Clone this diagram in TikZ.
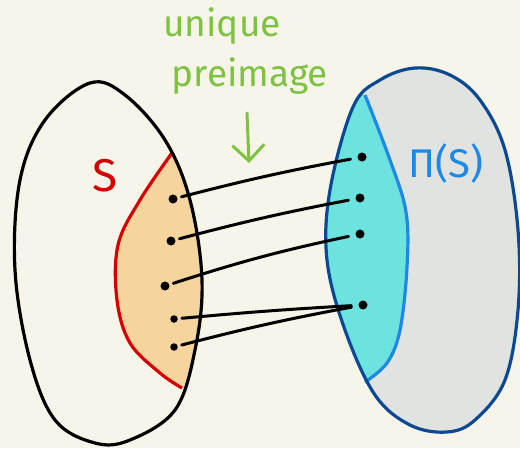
\documentclass[tikz,border=0pt]{standalone}
\usepackage{fontspec}
\setmainfont{Fira Sans}
\usetikzlibrary{arrows.meta}
\definecolor{bg}{HTML}{F7F5EA}
\definecolor{orangefill}{HTML}{F6D49E}
\definecolor{redline}{HTML}{D40000}
\definecolor{cyanfill}{HTML}{6CE3DF}
\definecolor{grayfill}{HTML}{E0E3DF}
\definecolor{darkblue}{HTML}{0B4A93}
\definecolor{lightblue}{HTML}{1E88E5}
\definecolor{greentext}{HTML}{7DC242}
\tikzset{
  dotnode/.style={circle,fill=black,inner sep=0pt,minimum size=9pt},
  conn/.style={line width=3pt,black,line cap=round,shorten <=4pt,shorten >=7pt},
  outline/.style={line width=3.2pt,line join=round},
  greenlab/.style={text=greentext,font=\fontsize{37}{37}\selectfont},
}
\begin{document}
\begin{tikzpicture}[x=1pt,y=-1pt]
\fill[bg] (0,0) rectangle (520,448);
\useasboundingbox (0,0) rectangle (520,448);
% right set
\fill[grayfill] plot[smooth cycle,tension=0.6] coordinates {(353,107) (380,80) (415,68) (450,75) (480,100) (505,150) (518,230) (518,310) (505,380) (475,420) (447,432) (410,425) (375,395) (345,330) (327,260) (330,190)};
\begin{scope}
\clip plot[smooth cycle,tension=0.6] coordinates {(353,107) (380,80) (415,68) (450,75) (480,100) (505,150) (518,230) (518,310) (505,380) (475,420) (447,432) (410,425) (375,395) (345,330) (327,260) (330,190)};
\fill[cyanfill] plot[smooth,tension=0.6] coordinates {(365,95) (390,160) (406,212) (407,267) (400,330) (387,363) (365,382)} -- (300,382) -- (300,95) -- cycle;
\end{scope}
\draw[lightblue,outline] plot[smooth,tension=0.6] coordinates {(365,95) (390,160) (406,212) (407,267) (400,330) (387,363) (365,382)};
\draw[darkblue,outline] plot[smooth cycle,tension=0.6] coordinates {(353,107) (380,80) (415,68) (450,75) (480,100) (505,150) (518,230) (518,310) (505,380) (475,420) (447,432) (410,425) (375,395) (345,330) (327,260) (330,190)};
% left set
\begin{scope}
\clip plot[smooth cycle,tension=0.6] coordinates {(90,83) (125,95) (165,140) (190,200) (202,280) (195,350) (175,410) (130,440) (95,443) (55,420) (30,360) (15,270) (20,180) (45,120)};
\fill[orangefill] plot[smooth,tension=0.6] coordinates {(172,150) (140,200) (118,245) (117,300) (130,343) (160,373) (182,388)} -- (260,388) -- (260,150) -- cycle;
\end{scope}
\draw[redline,outline] plot[smooth,tension=0.6] coordinates {(172,153) (140,200) (118,245) (117,300) (130,343) (160,373) (182,388)};
\draw[black,outline] plot[smooth cycle,tension=0.6] coordinates {(90,83) (125,95) (165,140) (190,200) (202,280) (195,350) (175,410) (130,440) (95,443) (55,420) (30,360) (15,270) (20,180) (45,120)};
% labels
\node[text=redline,font=\fontsize{46}{46}\selectfont] (S) at (105,176) {S};
\node[text=lightblue,font=\fontsize{40}{40}\selectfont] (PS) at (446,163) {Π(S)};
\node[greenlab] (lab1) at (222,26) {unique};
\node[greenlab] (lab2) at (250,76) {preimage};
\coordinate (atop) at (247,113);
\coordinate (abot) at (249,163);
\draw[greentext,line width=3pt,line cap=round,-{Straight Barb[length=16pt,width=32pt,line width=3pt]}] (atop) -- (abot);
% dots
\node[dotnode] (l1) at (173,199) {};
\node[dotnode] (l2) at (171,241) {};
\node[dotnode] (l3) at (165,286) {};
\node[dotnode,minimum size=7.5pt] (l4) at (174,319) {};
\node[dotnode,minimum size=7.5pt] (l5) at (174,347) {};
\node[dotnode] (r1) at (362,157) {};
\node[dotnode] (r2) at (360,198) {};
\node[dotnode] (r3) at (360,234) {};
\node[dotnode] (r4) at (363,305) {};
% connectors
\draw[conn] (l1) to[bend left=2] (r1);
\draw[conn] (l2) to[bend left=2] (r2);
\draw[conn] (l3) to[bend left=3] (r3);
\draw[conn] (l4) to[bend left=1] (r4);
\draw[conn] (l5) to[bend left=2] (r4);
\end{tikzpicture}
\end{document}
